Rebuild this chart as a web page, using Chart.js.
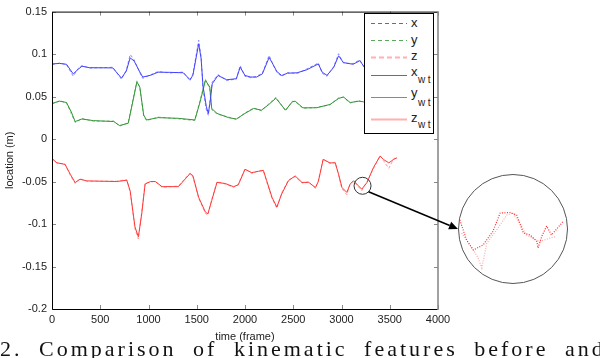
<!DOCTYPE html>
<html>
<head>
<meta charset="utf-8">
<script src="https://cdn.jsdelivr.net/npm/chart.js@4"></script>
<style>
  html, body { margin: 0; padding: 0; background: #fff; }
  #wrap { position: relative; width: 600px; height: 358px; overflow: hidden; }
  #main { position: absolute; left: 0; top: 0; }
  #legend { position: absolute; left: 0; top: 0; }
  #inset {
    position: absolute; left: 458px; top: 174px; width: 110px; height: 110px;
    border-radius: 50%; overflow: hidden; box-sizing: border-box;
    border: 1px solid #555; background: #fff;
  }
  #inset canvas { position: absolute; left: -1px; top: -1px; }
  #caption {
    position: absolute; left: 0; top: 338px; width: 600px; white-space: pre;
    font: 22px "Liberation Serif", "Times New Roman", serif; line-height: 22px;
    letter-spacing: 3px; word-spacing: 8px; color: #111;
  }
</style>
</head>
<body>
<div id="wrap">
  <canvas id="main" width="600" height="358"></canvas>
  <svg id="legend" width="600" height="358" font-family="Liberation Sans, Arial, sans-serif" fill="#222">
    <rect x="364.5" y="13.5" width="69" height="120" fill="#fff" stroke="#000" stroke-width="1"/>
    <line x1="371" x2="407" y1="23.5" y2="23.5" stroke="#5b5bff" stroke-dasharray="4 3"/>
    <line x1="371" x2="407" y1="40.5" y2="40.5" stroke="#5aaa5a" stroke-dasharray="4 3"/>
    <line x1="371" x2="407" y1="57.5" y2="57.5" stroke="#ffb0b0" stroke-width="2" stroke-dasharray="5 3"/>
    <line x1="371" x2="407" y1="75.5" y2="75.5" stroke="#5b5bff"/>
    <line x1="371" x2="407" y1="97.5" y2="97.5" stroke="#5aaa5a"/>
    <line x1="371" x2="407" y1="119.5" y2="119.5" stroke="#ffb0b0" stroke-width="2"/>
    <text x="411" y="27" font-size="13">x</text>
    <text x="411" y="44" font-size="13">y</text>
    <text x="411" y="60" font-size="13">z</text>
    <text x="411" y="75.5" font-size="13">x</text><text x="418" y="83" font-size="10" letter-spacing="2.5">wt</text>
    <text x="411" y="97" font-size="13">y</text><text x="418" y="106" font-size="10" letter-spacing="2.5">wt</text>
    <text x="411" y="121.5" font-size="13">z</text><text x="418" y="128" font-size="10" letter-spacing="2.5">wt</text>
  </svg>
  <div id="inset"><canvas id="zoom" width="110" height="110"></canvas></div>
  <div id="caption">2. Comparison of kinematic features before and after</div>
</div>
<script>
// axis ticks
const xTickValues = [0, 500, 1000, 1500, 2000, 2500, 3000, 3500, 4000];
const xTickLabels = ["0", "500", "1000", "1500", "2000", "2500", "3000", "3500", "4000"];
const yTickValues = [0.15, 0.1, 0.05, 0, -0.05, -0.1, -0.15, -0.2];
const yTickLabels = ["0.15", "0.1", "0.05", "0", "-0.05", "-0.1", "-0.15", "-0.2"];

// x coordinate (blue)
const xFrames = [0, 80, 150, 220, 270, 310, 390, 630, 720, 770, 810, 850, 910, 940, 1020, 1100, 1220, 1360, 1430, 1460,
  1520, 1545, 1565, 1600, 1620, 1640, 1660, 1720, 1810, 1910, 1950, 2000, 2060, 2120, 2180, 2250, 2280, 2330, 2380, 2440,
  2540, 2640, 2760, 2800, 2850, 2920, 2970, 3020, 3120, 3190, 3250, 3400, 3600];
const xRaw = [0.0875, 0.0895, 0.0875, 0.074, 0.083, 0.0865, 0.0835, 0.0845, 0.0705, 0.081, 0.0995, 0.0935, 0.078, 0.0715, 0.0755, 0.0795, 0.0778, 0.0788, 0.0685, 0.0765,
  0.1165, 0.097, 0.058, 0.034, 0.028, 0.048, 0.067, 0.0758, 0.069, 0.0705, 0.0865, 0.0738, 0.0722, 0.0738, 0.0775, 0.0985, 0.0905, 0.0785, 0.0738, 0.0782,
  0.0772, 0.0825, 0.0895, 0.0775, 0.0738, 0.0855, 0.1005, 0.0895, 0.0888, 0.0932, 0.0815, 0.0855, 0.0865];
const xWt = [0.0885, 0.089, 0.088, 0.0767, 0.082, 0.0857, 0.084, 0.0837, 0.0717, 0.080, 0.0955, 0.092, 0.079, 0.073, 0.075, 0.0787, 0.0785, 0.078, 0.070, 0.075,
  0.112, 0.095, 0.062, 0.038, 0.030, 0.045, 0.065, 0.0748, 0.0698, 0.071, 0.0845, 0.0748, 0.073, 0.0729, 0.0767, 0.096, 0.090, 0.0795, 0.0748, 0.0775,
  0.078, 0.0815, 0.0884, 0.0787, 0.075, 0.0845, 0.098, 0.090, 0.088, 0.0922, 0.0826, 0.085, 0.086];

// y coordinate (green)
const yFrames = [0, 80, 150, 200, 240, 310, 430, 640, 700, 790, 830, 880, 910, 950, 980, 1100, 1310, 1480, 1535, 1590,
  1635, 1655, 1710, 1830, 1910, 2000, 2090, 2170, 2240, 2320, 2420, 2490, 2520, 2600, 2740, 2880, 2970, 3020, 3090, 3180,
  3230, 3400, 3600];
const yRaw = [0.041, 0.0452, 0.0425, 0.030, 0.0195, 0.0242, 0.021, 0.0212, 0.0152, 0.0192, 0.042, 0.0685, 0.060, 0.027, 0.0218, 0.0258, 0.0238, 0.0218, 0.046, 0.0705,
  0.059, 0.0345, 0.0295, 0.0258, 0.023, 0.0308, 0.0365, 0.0332, 0.0408, 0.0492, 0.0332, 0.0445, 0.044, 0.0362, 0.0372, 0.0402, 0.0485, 0.049, 0.0425, 0.0452,
  0.0432, 0.0445, 0.0455];
const yWt = [0.042, 0.0446, 0.043, 0.032, 0.0206, 0.0236, 0.0217, 0.0206, 0.0159, 0.0186, 0.040, 0.0671, 0.0613, 0.0283, 0.0225, 0.0252, 0.0244, 0.0225, 0.0438, 0.069,
  0.0613, 0.036, 0.0302, 0.0252, 0.0236, 0.0302, 0.036, 0.034, 0.040, 0.048, 0.034, 0.0438, 0.0446, 0.0368, 0.0368, 0.0407, 0.0477, 0.0496, 0.043, 0.0446,
  0.0438, 0.044, 0.045];

// z coordinate (red)
const zFrames = [0, 50, 135, 190, 240, 290, 360, 670, 775, 810, 860, 895, 930, 965, 1020, 1070, 1140, 1310, 1430, 1460,
  1520, 1590, 1615, 1655, 1710, 1795, 1880, 1930, 2000, 2070, 2140, 2190, 2225, 2280, 2330, 2380, 2450, 2520, 2590, 2660,
  2730, 2760, 2810, 2880, 2935, 2970, 3005, 3055, 3090, 3125, 3175, 3210, 3265, 3330, 3400, 3435, 3490, 3540, 3575];
const zRaw = [-0.0225, -0.0285, -0.0292, -0.043, -0.0522, -0.0465, -0.0498, -0.0495, -0.0478, -0.0625, -0.106, -0.1175, -0.0855, -0.0515, -0.0508, -0.0495, -0.0568, -0.0552, -0.0398, -0.0445,
  -0.070, -0.0875, -0.0895, -0.071, -0.0502, -0.053, -0.0568, -0.0532, -0.0348, -0.0405, -0.0372, -0.0375, -0.0505, -0.0702, -0.0815, -0.0632, -0.0482, -0.0442, -0.0518, -0.0502,
  -0.0582, -0.0488, -0.0232, -0.0288, -0.0272, -0.043, -0.0585, -0.0655, -0.0522, -0.0498, -0.0562, -0.0605, -0.0498, -0.0352, -0.0195, -0.0255, -0.0345, -0.0232, -0.0215];
const zWt = [-0.023, -0.0279, -0.0298, -0.0415, -0.0512, -0.0473, -0.0492, -0.050, -0.0485, -0.0609, -0.1035, -0.115, -0.088, -0.053, -0.050, -0.050, -0.056, -0.056, -0.0407, -0.043,
  -0.0686, -0.086, -0.088, -0.0725, -0.051, -0.0523, -0.056, -0.054, -0.0357, -0.0395, -0.038, -0.0368, -0.049, -0.0686, -0.080, -0.0647, -0.049, -0.0434, -0.051, -0.051,
  -0.057, -0.050, -0.024, -0.028, -0.028, -0.0415, -0.057, -0.0628, -0.053, -0.049, -0.055, -0.059, -0.051, -0.0337, -0.020, -0.024, -0.028, -0.024, -0.022];

// magnified detail around the circled spot
const zoomCentre = { frame: 3218, value: -0.055 };
const insetFramesA = [3143, 3154, 3165, 3181, 3197, 3209, 3225, 3236, 3247, 3258, 3269, 3271, 3277, 3285, 3293, 3312];
const insetA = [-0.0532, -0.0572, -0.0592, -0.0582, -0.0555, -0.0518, -0.0517, -0.0522, -0.0558, -0.0562, -0.0575, -0.0588, -0.0565, -0.0544, -0.0562, -0.0535];
const insetFramesB = [3146, 3165, 3173, 3179, 3187, 3203, 3220, 3230, 3241, 3252, 3274, 3291, 3301];
const insetB = [-0.0558, -0.0592, -0.0608, -0.0628, -0.0579, -0.0552, -0.0522, -0.0518, -0.0538, -0.0562, -0.0575, -0.0568, -0.0565];

const pts = (fr, vals) => fr.map((f, i) => ({ x: f, y: vals[i] }));
const tickFont = { family: "Liberation Sans, Arial, sans-serif", size: 11 };

// ── box, inward ticks, circle and arrow ─────────────────────────────
const framePlugin = {
  id: "matlabFrame",
  afterDatasetsDraw(chart) {
    const { ctx, chartArea: a, scales } = chart;
    ctx.save();
    // inward tick marks
    ctx.strokeStyle = "#888";
    ctx.lineWidth = 1;
    ctx.beginPath();
    xTickValues.forEach((v) => {
      const px = Math.round(scales.x.getPixelForValue(v)) + 0.5;
      ctx.moveTo(px, a.bottom); ctx.lineTo(px, a.bottom - 4);
      ctx.moveTo(px, a.top); ctx.lineTo(px, a.top + 4);
    });
    yTickValues.forEach((v) => {
      const py = Math.round(scales.y.getPixelForValue(v)) + 0.5;
      ctx.moveTo(a.left, py); ctx.lineTo(a.left + 4, py);
      ctx.moveTo(a.right, py); ctx.lineTo(a.right - 4, py);
    });
    ctx.stroke();
    // axes box
    ctx.strokeStyle = "#000";
    ctx.beginPath();
    ctx.moveTo(a.right, a.top + 0.5); ctx.lineTo(a.left + 0.5, a.top + 0.5);
    ctx.lineTo(a.left + 0.5, a.bottom + 0.5); ctx.lineTo(a.right, a.bottom + 0.5);
    ctx.stroke();
    ctx.strokeStyle = "#8a8a8a";
    ctx.lineWidth = 1.6;
    ctx.beginPath();
    ctx.moveTo(a.right, a.top); ctx.lineTo(a.right, a.bottom + 1);
    ctx.stroke();

    // small circle around the detail
    const cx = scales.x.getPixelForValue(zoomCentre.frame);
    const cy = scales.y.getPixelForValue(zoomCentre.value);
    const r = 8.5;
    ctx.strokeStyle = "#333";
    ctx.lineWidth = 1;
    ctx.beginPath();
    ctx.arc(cx, cy, r, 0, Math.PI * 2);
    ctx.stroke();

    // arrow to the magnified circle
    const sx = cx + r * Math.SQRT1_2, sy = cy + r * Math.SQRT1_2;
    const ex = 458, ey = 229;
    const ang = Math.atan2(ey - sy, ex - sx);
    const hl = 9, hw = 4;
    ctx.strokeStyle = "#000";
    ctx.lineWidth = 1.5;
    ctx.beginPath();
    ctx.moveTo(sx, sy);
    ctx.lineTo(ex - hl * Math.cos(ang), ey - hl * Math.sin(ang));
    ctx.stroke();
    ctx.fillStyle = "#000";
    ctx.beginPath();
    ctx.moveTo(ex, ey);
    ctx.lineTo(ex - hl * Math.cos(ang) + hw * Math.sin(ang), ey - hl * Math.sin(ang) - hw * Math.cos(ang));
    ctx.lineTo(ex - hl * Math.cos(ang) - hw * Math.sin(ang), ey - hl * Math.sin(ang) + hw * Math.cos(ang));
    ctx.closePath();
    ctx.fill();
    ctx.restore();
  },
};

const rawLine = (data, color) => ({ data, borderColor: color, borderWidth: 1, borderDash: [3, 2], order: 1 });
const wtLine = (data, color) => ({ data, borderColor: color, borderWidth: 1, order: 0 });

new Chart(document.getElementById("main"), {
  type: "line",
  data: {
    datasets: [
      rawLine(pts(xFrames, xRaw), "#8c8cff"),
      rawLine(pts(yFrames, yRaw), "#7cbc7c"),
      rawLine(pts(zFrames, zRaw), "#ff9a9a"),
      wtLine(pts(xFrames, xWt), "#4444ff"),
      wtLine(pts(yFrames, yWt), "#36963a"),
      wtLine(pts(zFrames, zWt), "#ff3838"),
    ],
  },
  options: {
    responsive: false,
    animation: false,
    layout: { padding: { left: 0, top: 7, right: 162, bottom: 0 } },
    elements: { point: { radius: 0 }, line: { tension: 0 } },
    plugins: { legend: { display: false }, tooltip: { enabled: false } },
    scales: {
      x: {
        type: "linear",
        min: 0,
        max: 4000,
        afterFit: (s) => { s.height = 49; },
        afterBuildTicks: (s) => { s.ticks = xTickValues.map((v) => ({ value: v })); },
        ticks: { callback: (v, i) => xTickLabels[i], padding: 4, font: tickFont, color: "#222", maxRotation: 0, autoSkip: false },
        grid: { display: false, drawTicks: false },
        border: { display: false },
        title: { display: true, text: "time (frame)", font: tickFont, color: "#222", padding: { top: 0, bottom: 14 } },
      },
      y: {
        type: "linear",
        min: -0.2,
        max: 0.15,
        afterFit: (s) => { s.width = 52; },
        afterBuildTicks: (s) => { s.ticks = yTickValues.map((v) => ({ value: v })); },
        ticks: { callback: (v, i) => yTickLabels[i], padding: 5, font: tickFont, color: "#222", autoSkip: false },
        grid: { display: false, drawTicks: false },
        border: { display: false },
        title: { display: true, text: "location (m)", font: tickFont, color: "#222", padding: { top: 3, bottom: 0 } },
      },
    },
  },
  plugins: [framePlugin],
});

// ── magnified inset ─────────────────────────────────────────────────
new Chart(document.getElementById("zoom"), {
  type: "line",
  data: {
    datasets: [
      { data: pts(insetFramesA, insetA), borderColor: "#ff2a2a", borderWidth: 1.2, borderDash: [1, 1.5] },
      { data: pts(insetFramesB, insetB), borderColor: "#ffa8a8", borderWidth: 1.2, borderDash: [1, 1.5] },
    ],
  },
  options: {
    responsive: false,
    animation: false,
    layout: { padding: 0 },
    elements: { point: { radius: 0 }, line: { tension: 0 } },
    plugins: { legend: { display: false }, tooltip: { enabled: false } },
    scales: {
      x: { type: "linear", min: 3140, max: 3320, display: false },
      y: { type: "linear", min: -0.066, max: -0.044, display: false },
    },
  },
});
</script>
</body>
</html>
